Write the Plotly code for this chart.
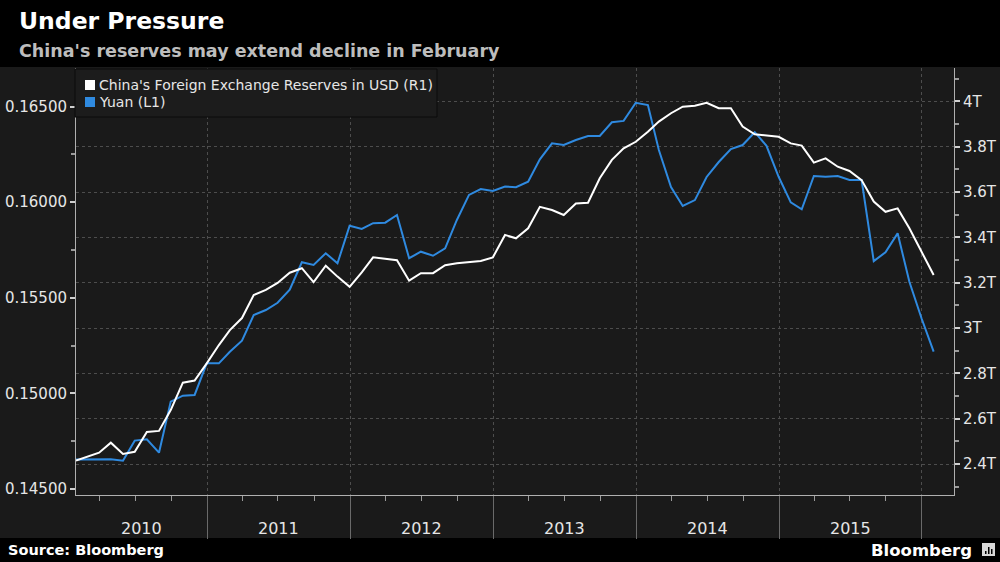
import pandas as pd
import plotly.graph_objects as go

# ---------------- data ----------------
dates = pd.date_range("2010-01-31", periods=73, freq="ME")

# China's FX reserves, USD trillions (right axis)
reserves = [
    2.415, 2.430, 2.450, 2.494, 2.444, 2.454, 2.541, 2.546, 2.638, 2.759, 2.768, 2.844,  # 2010
    2.925, 2.991, 3.044, 3.146, 3.168, 3.199, 3.244, 3.264, 3.203, 3.275, 3.227, 3.182,  # 2011
    3.246, 3.312, 3.305, 3.299, 3.209, 3.242, 3.242, 3.277, 3.286, 3.290, 3.296, 3.312,  # 2012
    3.411, 3.396, 3.440, 3.535, 3.521, 3.499, 3.550, 3.553, 3.661, 3.742, 3.793, 3.822,  # 2013
    3.866, 3.911, 3.948, 3.977, 3.981, 3.994, 3.970, 3.970, 3.889, 3.855, 3.849, 3.844,  # 2014
    3.815, 3.805, 3.730, 3.749, 3.712, 3.693, 3.653, 3.558, 3.513, 3.528, 3.440, 3.337,  # 2015
    3.234,                                                                              # 2016
]

# Yuan in USD (left axis)
yuan = [
    0.14654, 0.14655, 0.14655, 0.14655, 0.14648, 0.14753, 0.14760, 0.14690, 0.14957, 0.14988, 0.14992, 0.15157,
    0.15157, 0.15218, 0.15276, 0.15410, 0.15436, 0.15474, 0.15542, 0.15686, 0.15672, 0.15733, 0.15680, 0.15877,
    0.15860, 0.15890, 0.15893, 0.15933, 0.15707, 0.15741, 0.15720, 0.15759, 0.15907, 0.16038, 0.16069, 0.16059,
    0.16082, 0.16078, 0.16107, 0.16224, 0.16308, 0.16299, 0.16325, 0.16346, 0.16346, 0.16418, 0.16425, 0.16520,
    0.16508, 0.16273, 0.16079, 0.15980, 0.16011, 0.16132, 0.16210, 0.16278, 0.16299, 0.16366, 0.16295, 0.16133,
    0.15999, 0.15963, 0.16137, 0.16133, 0.16137, 0.16116, 0.16116, 0.15692, 0.15738, 0.15837, 0.15584, 0.15393,
    0.15218,
]

left_ticks = [0.145, 0.150, 0.155, 0.160, 0.165]
right_ticks = [2.4, 2.6, 2.8, 3.0, 3.2, 3.4, 3.6, 3.8, 4.0]
right_tick_labels = ["2.4T", "2.6T", "2.8T", "3T", "3.2T", "3.4T", "3.6T", "3.8T", "4T"]
year_bounds = ["2011-01-01", "2012-01-01", "2013-01-01", "2014-01-01", "2015-01-01", "2016-01-01"]
year_labels = ["2010", "2011", "2012", "2013", "2014", "2015"]
year_label_pos = ["2010-07-17", "2011-07-02", "2012-07-02", "2013-07-02", "2014-07-02", "2015-07-02"]

series_names = ["China's Foreign Exchange Reserves in USD (R1)", "Yuan (L1)"]

# ---------------- style ----------------
W, H = 1000, 562
ML, MR, MT, MB = 76, 46, 68, 67
PW, PH = W - ML - MR, H - MT - MB
FONT = "DejaVu Sans"
BLUE = "#2f8ae0"
WHITE = "#ffffff"
BG = "#1a1a1a"
GRID = "#4d4d4d"
AXIS = "#b0b0b0"
TICKF = "#e6e6e6"


def px(xp):
    return (xp - ML) / PW


def py(yp):
    return (H - MB - yp) / PH


fig = go.Figure()
fig.add_trace(go.Scatter(x=dates, y=yuan, mode="lines", name=series_names[1],
                         line=dict(color=BLUE, width=2), yaxis="y", showlegend=False))
fig.add_trace(go.Scatter(x=dates, y=reserves, mode="lines", name=series_names[0],
                         line=dict(color=WHITE, width=2), yaxis="y2", showlegend=False))

fig.update_layout(
    width=W, height=H, autosize=False,
    margin=dict(l=ML, r=MR, t=MT, b=MB, autoexpand=False),
    paper_bgcolor="#000000", plot_bgcolor=BG,
    font=dict(family=FONT, color=TICKF),
    xaxis=dict(
        type="date", range=["2010-01-31", "2016-03-23"], automargin=False,
        showline=True, linecolor=AXIS, linewidth=1,
        tickmode="array", tickvals=year_bounds, showticklabels=False,
        ticks="outside", ticklen=43, tickcolor="#6a6a6a", tickwidth=1,
        showgrid=True, gridcolor=GRID, griddash="dot", gridwidth=1,
        minor=dict(tickmode="linear", tick0="2010-01-01", dtick="M3",
                   ticks="outside", ticklen=5, tickcolor="#9a9a9a", showgrid=False),
        zeroline=False, fixedrange=True,
    ),
    yaxis=dict(
        range=[0.144686, 0.167018], side="left", automargin=False,
        showline=True, linecolor=AXIS, linewidth=1, mirror=False,
        tickmode="array", tickvals=left_ticks, tickformat=".5f",
        ticks="outside", ticklen=5, tickwidth=2, tickcolor="#d0d0d0",
        tickfont=dict(size=15, color=TICKF, family=FONT),
        minor=dict(tickmode="linear", tick0=0.145, dtick=0.0025,
                   ticks="outside", ticklen=4, tickcolor="#9a9a9a", showgrid=False),
        showgrid=False, zeroline=False,
    ),
    yaxis2=dict(
        range=[2.2632, 4.1476], side="right", overlaying="y", automargin=False,
        showline=True, linecolor=AXIS, linewidth=1,
        tickmode="array", tickvals=right_ticks, ticktext=right_tick_labels,
        ticks="outside", ticklen=5, tickwidth=2, tickcolor="#d0d0d0",
        tickfont=dict(size=15, color=TICKF, family=FONT),
        minor=dict(tickmode="linear", tick0=2.4, dtick=0.1,
                   ticks="outside", ticklen=4, tickcolor="#9a9a9a", showgrid=False),
        showgrid=True, gridcolor=GRID, griddash="dot", gridwidth=1, zeroline=False,
    ),
)

shapes = [
    # grey chart band behind plot and axis labels
    dict(type="rect", xref="paper", yref="paper", x0=px(0), x1=px(W), y0=py(538), y1=py(67),
         fillcolor=BG, line=dict(width=0), layer="below"),
    # legend box
    dict(type="rect", xref="paper", yref="paper", x0=px(75), x1=px(437), y0=py(117), y1=py(69),
         fillcolor="#1c1c1c", line=dict(color="#0b0b0b", width=1), layer="above"),
    dict(type="rect", xref="paper", yref="paper", x0=px(85), x1=px(95), y0=py(90), y1=py(80),
         fillcolor=WHITE, line=dict(width=0), layer="above"),
    dict(type="rect", xref="paper", yref="paper", x0=px(85), x1=px(95), y0=py(107), y1=py(97),
         fillcolor=BLUE, line=dict(width=0), layer="above"),
    # small logo badge next to "Bloomberg"
    dict(type="rect", xref="paper", yref="paper", x0=px(982), x1=px(995), y0=py(556), y1=py(543),
         fillcolor="#d8d8d8", line=dict(width=0), layer="above"),
]
for bx, btop in [(985, 551), (988, 547), (991, 549)]:
    shapes.append(dict(type="rect", xref="paper", yref="paper", x0=px(bx), x1=px(bx + 1.5),
                       y0=py(554), y1=py(btop), fillcolor="#000000", line=dict(width=0),
                       layer="above"))
fig.update_layout(shapes=shapes)

ann = [
    dict(text="<b>Under Pressure</b>", x=px(17), y=py(21), xanchor="left", yanchor="middle",
         font=dict(size=23.5, color="#ffffff", family=FONT)),
    dict(text="<b>China's reserves may extend decline in February</b>", x=px(17), y=py(51),
         xanchor="left", yanchor="middle", font=dict(size=17.5, color="#bdbdbd", family=FONT)),
    dict(text="<b>Source: Bloomberg</b>", x=px(6), y=py(550), xanchor="left", yanchor="middle",
         font=dict(size=14.5, color="#ffffff", family=FONT)),
    dict(text="<b>Bloomberg</b>", x=px(974), y=py(550), xanchor="right", yanchor="middle",
         font=dict(size=16.5, color="#ffffff", family=FONT)),
    dict(text=series_names[0], x=px(97), y=py(85), xanchor="left", yanchor="middle",
         font=dict(size=14, color="#e6e6e6", family=FONT)),
    dict(text=series_names[1], x=px(97), y=py(102), xanchor="left", yanchor="middle",
         font=dict(size=14, color="#e6e6e6", family=FONT)),
]
for lab, pos in zip(year_labels, year_label_pos):
    ann.append(dict(text=lab, x=pos, xref="x", y=py(528), yanchor="middle", xanchor="center",
                    font=dict(size=16, color=TICKF, family=FONT)))
for a in ann:
    a.setdefault("xref", "paper")
    a["yref"] = "paper"
    a["showarrow"] = False
fig.update_layout(annotations=ann)

fig.write_html("out.html")
